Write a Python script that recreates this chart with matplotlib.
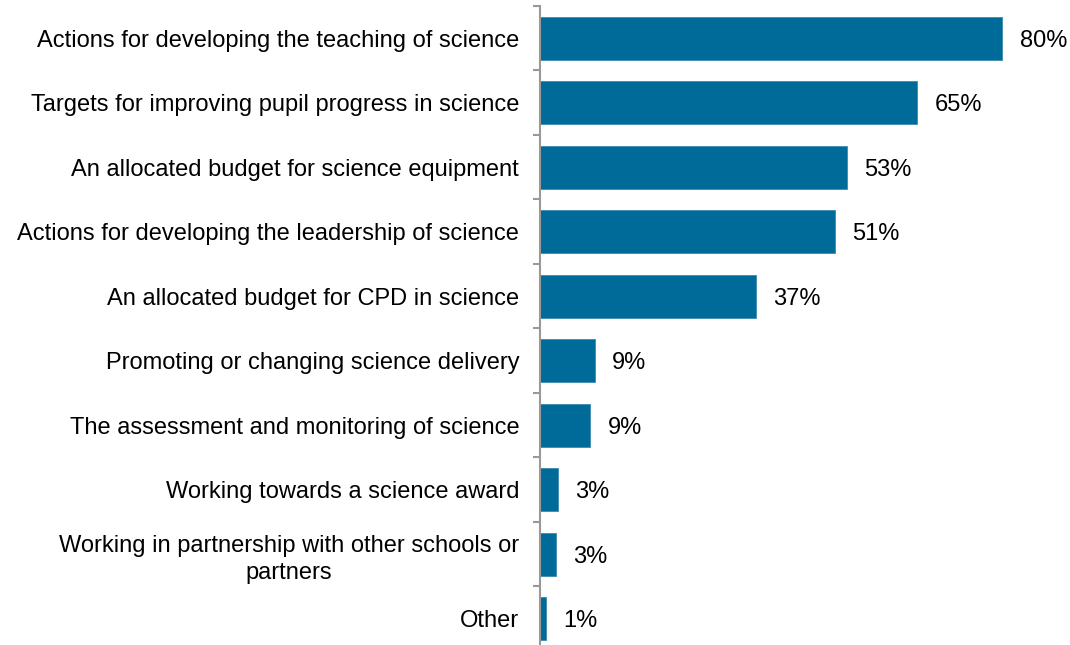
import numpy as np
import matplotlib
matplotlib.use("Agg")
import matplotlib.pyplot as plt

categories = [
    "Actions for developing the teaching of science",
    "Targets for improving pupil progress in science",
    "An allocated budget for science equipment",
    "Actions for developing the leadership of science",
    "An allocated budget for CPD in science",
    "Promoting or changing science delivery",
    "The assessment and monitoring of science",
    "Working towards a science award",
    "Working in partnership with other schools or\npartners",
    "Other",
]
values = [80, 65.3, 53.1, 51.0, 37.4, 9.5, 8.7, 3.1, 2.7, 1.0]
value_labels = ["80%", "65%", "53%", "51%", "37%", "9%", "9%", "3%", "3%", "1%"]

bar_color = "#006B98"
axis_color = "#999999"

plt.rcParams['font.family'] = ['Liberation Sans', 'DejaVu Sans']

fig = plt.figure(figsize=(10.7, 6.45), dpi=100)
ax = fig.add_axes([540 / 1070, -0.0093, 1 - 540 / 1070, 0.9907 + 0.0093])

y = np.arange(len(categories))
ax.barh(y, values, height=0.67, color=bar_color, edgecolor="#3d8bb0", linewidth=0.6)

# value labels just right of each bar
for yi, v, lab in zip(y, values, value_labels):
    ax.text(v + 3.0, yi, lab, va='center_baseline', ha='left', fontsize=17, color='black')

ax.set_xlim(0, 530 / 5.78)
ax.set_ylim(len(categories) - 0.5, -0.5)

ax.set_yticks(y)
ax.set_yticklabels(categories, fontsize=17, color='black')
for t in ax.get_yticklabels():
    t.set_multialignment('center')
    t.set_linespacing(1.28)
ax.tick_params(axis='y', which='major', length=0, pad=15)
ax.set_yticks(np.arange(-0.5, len(categories) + 0.5, 1), minor=True)
ax.tick_params(axis='y', which='minor', length=5, width=1.5, color=axis_color, direction='out')

ax.set_xticks([])
for side in ['top', 'right', 'bottom']:
    ax.spines[side].set_visible(False)
ax.spines['left'].set_color(axis_color)
ax.spines['left'].set_linewidth(1.5)

fig.savefig("out.png", dpi=100)
